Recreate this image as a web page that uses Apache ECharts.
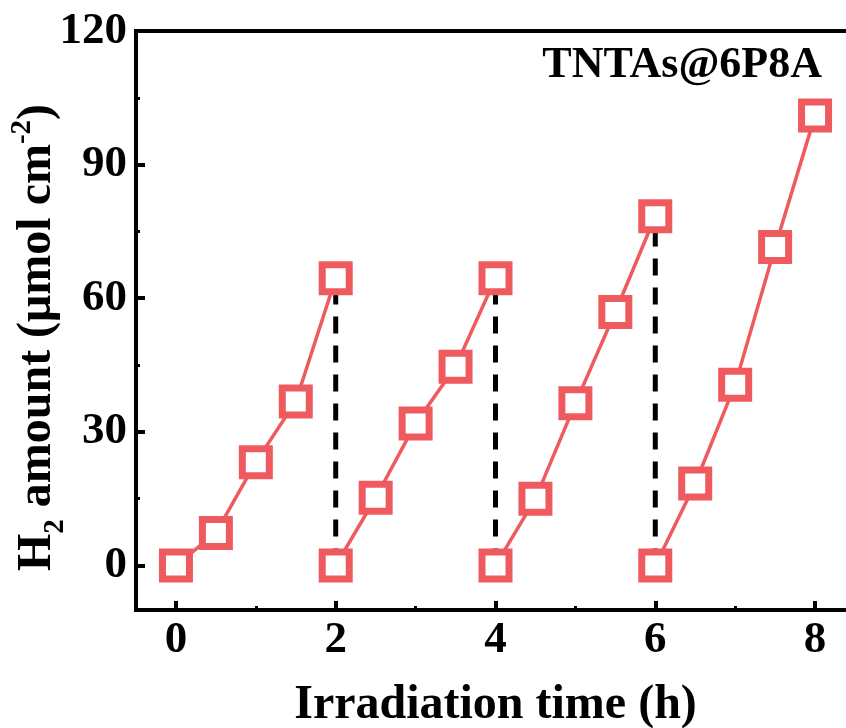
<!DOCTYPE html>
<html><head><meta charset="utf-8">
<script src="https://cdn.jsdelivr.net/npm/echarts@6/dist/echarts.min.js"></script>
<style>html,body{margin:0;padding:0;background:#fff}#c{width:846px;height:728px}</style>
</head><body><div id="c"></div>
<script>
const cycle1X = [0, 0.5, 1, 1.5, 2];
const cycle1Y = [0, 7.3, 23.2, 36.8, 64.5];
const cycle2X = [2, 2.5, 3, 3.5, 4];
const cycle2Y = [0, 15.2, 31.9, 44.6, 64.5];
const cycle3X = [4, 4.5, 5, 5.5, 6];
const cycle3Y = [0, 15.0, 36.4, 56.9, 78.4];
const cycle4X = [6, 6.5, 7, 7.5, 8];
const cycle4Y = [0, 18.4, 40.6, 71.5, 101.0];
const dropX = [2, 4, 6];
const dropTop = [64.5, 64.5, 78.4];
const xMajorTicks = [0, 2, 4, 6, 8];
const xMinorTicks = [1, 3, 5, 7];
const yMajorTicks = [0, 30, 60, 90, 120];
const yMinorTicks = [15, 45, 75, 105];
const xTitle = 'Irradiation time (h)';
const annotation = 'TNTAs@6P8A';

const RED = '#ef5a5f';
const FONT = '"Liberation Serif","Times New Roman",serif';
const chart = echarts.init(document.getElementById('c'), null, {renderer: 'canvas'});
const zip = (xs, ys) => xs.map((x, i) => [x, ys[i]]);
const cycles = [[cycle1X, cycle1Y], [cycle2X, cycle2Y], [cycle3X, cycle3Y], [cycle4X, cycle4Y]];

const series = [];
dropX.forEach((x, i) => {
  series.push({
    type: 'line', data: [[x, 0], [x, dropTop[i]]], symbol: 'none', z: 1,
    lineStyle: {color: '#000', width: 5, type: [17, 12]}, silent: true
  });
});
cycles.forEach(([xs, ys]) => {
  series.push({
    type: 'line', data: zip(xs, ys), z: 3,
    symbol: 'rect', symbolSize: 27, showAllSymbol: true,
    itemStyle: {color: '#fff', borderColor: RED, borderWidth: 7},
    lineStyle: {color: RED, width: 3.5}
  });
});

const labelFont = {fontFamily: FONT, fontWeight: 'bold', fontSize: 45, color: '#000'};
chart.setOption({
  animation: false,
  backgroundColor: '#fff',
  grid: {left: 136, top: 31, width: 719, height: 579, outerBoundsMode: 'none', containLabel: false,
         show: true, borderColor: '#000', borderWidth: 4, backgroundColor: 'transparent'},
  xAxis: [{
    type: 'value', min: -0.5, max: 8.5,
    name: xTitle, nameLocation: 'middle', nameGap: 72, nameMoveOverlap: false,
    nameTextStyle: {fontFamily: FONT, fontWeight: 'bold', fontSize: 48, color: '#000'},
    axisLine: {show: true, onZero: false, lineStyle: {color: '#000', width: 4}},
    axisTick: {show: true, inside: true, length: 9, lineStyle: {color: '#000', width: 4}, customValues: xMajorTicks},
    axisLabel: Object.assign({show: true, customValues: xMajorTicks, margin: 8}, labelFont),
    splitLine: {show: false}
  }, {
    type: 'value', min: -0.5, max: 8.5, position: 'bottom', gridIndex: 0,
    axisLine: {show: false, onZero: false},
    axisTick: {show: true, inside: true, length: 4, lineStyle: {color: '#000', width: 3}, customValues: xMinorTicks},
    axisLabel: {show: false}, splitLine: {show: false}
  }],
  yAxis: [{
    type: 'value', min: -10, max: 120,
    name: '{t|H}{s|2}{t| amount (μmol cm}{p|-2}{t|)}',
    nameLocation: 'middle', nameGap: 74, nameRotate: 90, nameMoveOverlap: false,
    nameTextStyle: {
      fontFamily: FONT, fontWeight: 'bold', fontSize: 48, color: '#000',
      padding: [0, 34, 0, 0],
      rich: {
        t: {fontFamily: FONT, fontWeight: 'bold', fontSize: 48, color: '#000', verticalAlign: 'bottom', lineHeight: 54},
        s: {fontFamily: FONT, fontWeight: 'bold', fontSize: 29, color: '#000', verticalAlign: 'bottom', lineHeight: 40, padding: [0, 0, -8, 0]},
        p: {fontFamily: FONT, fontWeight: 'bold', fontSize: 29, color: '#000', verticalAlign: 'top', lineHeight: 54}
      }
    },
    axisLine: {show: true, onZero: false, lineStyle: {color: '#000', width: 4}},
    axisTick: {show: true, inside: true, length: 9, lineStyle: {color: '#000', width: 4}, customValues: yMajorTicks},
    axisLabel: Object.assign({show: true, customValues: yMajorTicks, margin: 9}, labelFont),
    splitLine: {show: false}
  }, {
    type: 'value', min: -10, max: 120, position: 'left',
    axisLine: {show: false, onZero: false},
    axisTick: {show: true, inside: true, length: 4, lineStyle: {color: '#000', width: 3}, customValues: yMinorTicks},
    axisLabel: {show: false}, splitLine: {show: false}
  }],
  graphic: [{
    type: 'text', right: 24, top: 44,
    style: {text: annotation, fontFamily: FONT, fontWeight: 'bold', fontSize: 44, fill: '#000'}
  }],
  series: series
});
</script></body></html>
